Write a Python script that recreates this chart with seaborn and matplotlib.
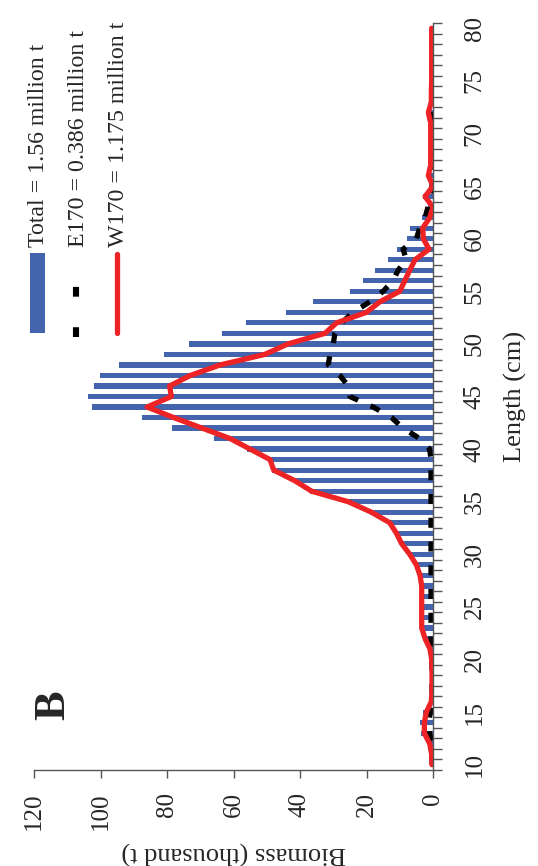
import numpy as np
import pandas as pd
import matplotlib
matplotlib.use("Agg")
import matplotlib.pyplot as plt
from matplotlib.patches import Rectangle
from matplotlib.lines import Line2D
import seaborn as sns

# ---------------- data (thousand t by length class, cm) ----------------
length = list(range(10, 81))

total = [0.5, 0.5, 1.5, 3.5, 4.0, 3.0, 0.5, 0.3, 0.3, 0.3,     # 10-19
         0.6, 1.5, 3.0, 4.0, 4.0, 4.0, 4.0, 4.0, 4.5, 5.5,     # 20-29
         7.5, 10.0, 11.5, 13.5, 19.0, 26.0, 37.0, 42.0, 48.5, 49.5,  # 30-39
         56.0, 65.9, 78.6, 87.6, 102.6, 103.9, 102.0, 100.2, 94.5, 81.0,  # 40-49
         73.5, 63.5, 56.3, 44.3, 36.0, 24.9, 21.1, 17.5, 13.5, 10.8,  # 50-59
         7.8, 6.9, 3.4, 1.5, 3.1, 0.3, 1.5, 0.7, 0.7, 0.7,      # 60-69
         0.7, 0.7, 1.4, 0.5, 0.5, 0.4, 0.4, 0.4, 0.4, 0.4,      # 70-79
         0.4]                                                   # 80

e170 = [0.3, 0.3, 0.4, 1.0, 1.3, 0.8, 0.3, 0.3, 0.3, 0.3,
        0.3, 0.6, 0.6, 0.6, 0.6, 0.6, 0.6, 0.6, 0.6, 0.6,
        0.6, 0.6, 0.6, 0.6, 0.6, 0.6, 0.6, 0.6, 0.6, 0.6,
        1.0, 4.0, 9.0, 12.5, 18.0, 25.0, 25.5, 28.0, 31.5, 31.0,
        30.0, 29.5, 27.5, 24.0, 19.0, 15.0, 12.0, 10.5, 8.0, 9.0,
        5.0, 4.0, 2.4, 1.5, 1.0, 0.3, 0.3, 0.3, 0.3, 0.3,
        0.3, 0.3, 0.3, 0.3, 0.3, 0.3, 0.3, 0.3, 0.3, 0.3,
        0.3]

w170 = [0.3, 0.4, 1.0, 2.6, 2.6, 2.0, 0.5, 0.3, 0.3, 0.3,
        0.4, 0.9, 2.4, 3.4, 3.4, 3.4, 3.4, 3.4, 3.9, 5.0,
        7.0, 9.4, 11.0, 13.0, 18.5, 25.5, 36.5, 41.6, 47.9, 49.0,
        55.0, 61.0, 69.5, 78.0, 86.0, 78.7, 79.2, 73.0, 64.0, 50.6,
        43.6, 32.5, 29.0, 20.0, 16.0, 10.0, 8.5, 7.0, 5.4, 1.2,
        2.9, 3.1, 1.0, 0.0, 2.4, 0.0, 1.4, 0.7, 0.7, 0.7,
        0.7, 0.7, 1.4, 0.5, 0.5, 0.4, 0.4, 0.4, 0.4, 0.4,
        0.4]

legend_labels = ["Total = 1.56 million t",
                 "E170 = 0.386 million t",
                 "W170 = 1.175 million t"]
panel_letter = "B"
biomass_ticks = [0, 20, 40, 60, 80, 100, 120]
length_ticks = list(range(10, 81, 5))

df = pd.DataFrame({"length": length, "total": total,
                   "e170": e170, "w170": w170})

# ---------------- style ----------------
sns.set_theme(style="white")
plt.rcParams["font.family"] = ["Liberation Serif", "DejaVu Serif"]

BLUE = "#4465AE"
RED = "#ED2326"
AXC = "#555555"

W, H = 538, 866
fig = plt.figure(figsize=(W / 100, H / 100), dpi=100)
# axes box in pixels: x 34..433, y 23..770
ax = fig.add_axes([34 / W, 1 - 770 / H, (433 - 34) / W, (770 - 23) / H])

sns.barplot(data=df, x="total", y="length", orient="y", native_scale=True,
            color=BLUE, saturation=1, width=0.5, linewidth=0, ax=ax)
sns.lineplot(data=df, x="e170", y="length", orient="y", sort=False,
             estimator=None, color="black", lw=3.8, ax=ax)
ax.lines[-1].set_dashes((1.9, 2.6))
ax.lines[-1].set_dash_capstyle("butt")
sns.lineplot(data=df, x="w170", y="length", orient="y", sort=False,
             estimator=None, color=RED, lw=3.8, ax=ax)
ax.lines[-1].set_solid_capstyle("round")
ax.lines[-1].set_solid_joinstyle("round")

ax.set_xlim(120, 0)
ax.set_ylim(9.5, 80.5)

# spines
for s in ["top", "left"]:
    ax.spines[s].set_visible(False)
for s in ["bottom", "right"]:
    ax.spines[s].set_visible(True)
    ax.spines[s].set_color(AXC)
    ax.spines[s].set_linewidth(1.0)

# biomass axis (bottom)
ax.set_xticks(biomass_ticks)
ax.set_xticklabels([str(t) for t in biomass_ticks])
ax.tick_params(axis="x", which="major", direction="out", length=6,
               width=1.0, color=AXC, labelsize=18, labelrotation=90, pad=10,
               bottom=True)

# length axis (right)
ax.yaxis.tick_right()
ax.set_yticks(length_ticks)
ax.set_yticklabels([str(t) for t in length_ticks])
ax.set_yticks(np.arange(9.5, 81.0, 1.0), minor=True)
ax.tick_params(axis="y", which="major", length=0, labelsize=18,
               labelrotation=90, pad=30, right=True, left=False)
ax.tick_params(axis="y", which="minor", direction="out", length=6.5,
               width=1.0, color=AXC, right=True, left=False)
for lab in ax.get_yticklabels():
    lab.set_verticalalignment("center")
    lab.set_horizontalalignment("center")

ax.yaxis.set_label_position("right")
ax.set_ylabel("Length (cm)", fontsize=19, rotation=90, ha="center", va="center")
ax.yaxis.set_label_coords((515 - 34) / (433 - 34), 0.5)
ax.set_xlabel("Biomass (thousand t)", fontsize=19, rotation=180,
              ha="center", va="center")
ax.xaxis.set_label_coords(0.5, -(853 - 770) / (770 - 23))
ax.grid(False)
if ax.get_legend() is not None:
    ax.get_legend().remove()

# panel letter
fig.text(53 / W, 1 - 705 / H, panel_letter, fontsize=32, fontweight="bold",
         rotation=90, ha="center", va="center")

# manual rotated legend
def fx(x):
    return x / W

def fy(y):
    return 1 - y / H

fig.add_artist(Rectangle((fx(30), fy(333)), fx(45) - fx(30), fy(253) - fy(333),
                         transform=fig.transFigure, color=BLUE, lw=0))
fig.add_artist(Line2D([fx(76), fx(76)], [fy(337), fy(260)],
                      transform=fig.transFigure, color="black", lw=4.4,
                      dashes=(1.6, 5.0), dash_capstyle="butt"))
fig.add_artist(Line2D([fx(117), fx(117)], [fy(333), fy(254)],
                      transform=fig.transFigure, color=RED, lw=3.8,
                      solid_capstyle="round"))
for xc, lab in zip([38, 78, 118], legend_labels):
    fig.text(fx(xc), fy(247), lab, fontsize=17.2, rotation=90,
             rotation_mode="anchor", ha="left", va="center")

fig.savefig("out.png", dpi=100)
